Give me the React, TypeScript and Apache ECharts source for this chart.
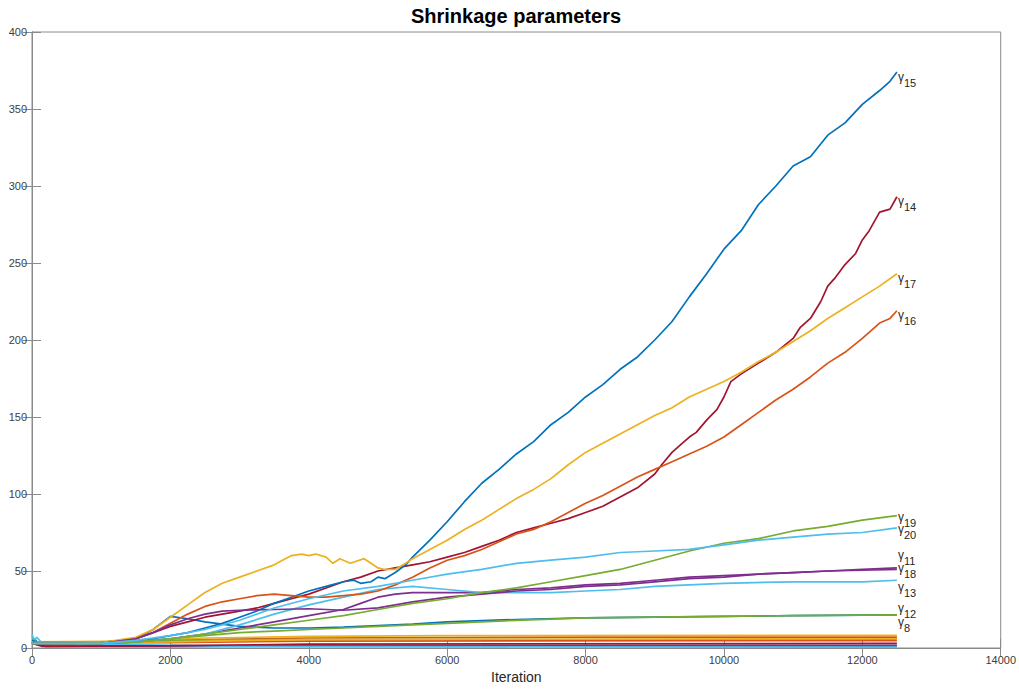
import React, { useEffect, useRef } from "react";
import * as echarts from "echarts";

const TITLE = "Shrinkage parameters";
const X_NAME = "Iteration";
const X_MIN = 0, X_MAX = 14000, X_STEP = 2000;
const Y_MIN = 0, Y_MAX = 400, Y_STEP = 50;

const COLORS = ["#0072BD", "#D95319", "#EDB120", "#7E2F8E", "#77AC30", "#4DBEEE", "#A2142F"];

// [iteration, value]
const g1 = [[0, 3], [40, 6], [100, 2], [300, 1.2], [6000, 1.3], [12500, 1.3]];
const g2 = [[0, 4], [1500, 4], [2500, 5.5], [4000, 6.5], [8000, 7], [12500, 7]];
const g3 = [[0, 4], [1500, 4.5], [2500, 6.5], [4000, 7.5], [6000, 8], [12500, 8.2]];
const g4 = [[0, 3], [150, 1], [2000, 1], [5000, 1.5], [12500, 1.8]];
const g5 = [[0, 7], [60, 4], [1000, 4], [2000, 5], [3000, 5.5], [12500, 5.5]];
const g6 = [[0, 9], [30, 5], [70, 7], [150, 3], [1000, 2.5], [3000, 1], [12500, 0.5]];
const g7 = [[0, 3], [200, 1], [2000, 1.5], [4000, 2.5], [12500, 3]];
const g8 = [[0, 5], [100, 3], [500, 3], [1000, 3.5], [1500, 6], [1750, 12], [2000, 20.5], [2250, 19], [2500, 17], [3000, 14], [3500, 13], [4000, 13], [4500, 13.5], [5000, 14.5], [5500, 15.5], [6000, 17], [7000, 18.5], [8000, 19.5], [9000, 20], [10000, 20.5], [11000, 21], [12500, 21.5]];
const g9 = [[0, 3.5], [2000, 3.5], [4000, 4.5], [12500, 4.8]];
const g10 = [[0, 3.5], [2000, 4], [4000, 5.5], [12500, 6]];
const g11 = [[0, 3], [1000, 3], [1500, 4], [2000, 6], [2500, 9], [3000, 13], [3500, 17], [4000, 21], [4500, 25], [4750, 29], [5000, 33], [5250, 35], [5500, 36], [6000, 36], [6500, 36], [7000, 38], [7500, 39], [8000, 41], [8500, 42], [9000, 44], [9500, 46], [10000, 47], [10500, 48], [11000, 49], [11500, 50], [12000, 51], [12500, 52]];
const g12 = [[0, 3], [1000, 3], [1500, 4], [2000, 6], [2500, 8], [3000, 10], [3500, 11], [4000, 12], [4500, 13], [5000, 14], [5500, 15], [6000, 16], [7000, 18], [8000, 19.5], [9000, 20], [10000, 20.5], [11000, 21], [12500, 21.5]];
const g13 = [[0, 3], [1000, 3], [1500, 4], [2000, 6], [2500, 9], [3000, 15], [3500, 22], [4000, 28], [4500, 33], [5000, 38], [5500, 40], [6000, 38], [6500, 36], [7000, 36], [7500, 36], [8000, 37], [8500, 38], [9000, 40], [9500, 41], [10000, 42], [11000, 43], [12000, 43], [12500, 44]];
const g14 = [[0, 3], [500, 3], [1000, 3.5], [1500, 6], [1750, 10], [2000, 14], [2250, 17], [2500, 20], [2750, 22], [3000, 24], [3250, 26], [3500, 29], [3750, 32], [4000, 35], [4250, 39], [4500, 43], [4750, 46], [5000, 50], [5250, 52], [5500, 54], [5750, 56], [6000, 59], [6250, 62], [6500, 66], [6750, 70], [7000, 75], [7250, 78], [7500, 81], [7750, 84], [8000, 88], [8250, 92], [8500, 98], [8750, 104], [9000, 113], [9100, 119], [9250, 127], [9400, 133], [9500, 137], [9600, 140], [9750, 148], [9900, 155], [10000, 163], [10100, 173], [10250, 178], [10500, 185], [10750, 192], [11000, 201], [11100, 208], [11250, 214], [11400, 225], [11500, 235], [11600, 240], [11750, 249], [11900, 256], [12000, 265], [12100, 271], [12250, 283], [12400, 285], [12500, 293]];
const g15 = [[0, 3], [250, 3], [500, 3], [1000, 3.5], [1500, 5], [1750, 6], [2000, 8], [2250, 10], [2500, 13], [2750, 16], [3000, 20], [3250, 24], [3500, 29], [3750, 33], [4000, 37], [4250, 40], [4500, 43], [4650, 44], [4750, 42], [4900, 43], [5000, 46], [5100, 45], [5250, 49], [5400, 54], [5500, 59], [5750, 70], [6000, 82], [6250, 95], [6500, 107], [6750, 116], [7000, 126], [7250, 134], [7500, 145], [7750, 153], [8000, 163], [8250, 171], [8500, 181], [8750, 189], [9000, 200], [9250, 212], [9500, 228], [9750, 243], [10000, 259], [10250, 271], [10500, 288], [10750, 300], [11000, 313], [11250, 319], [11500, 333], [11750, 341], [12000, 353], [12250, 362], [12400, 368], [12500, 374]];
const g16 = [[0, 3], [500, 3], [1000, 3.5], [1500, 6], [1750, 10], [2000, 16], [2250, 22], [2500, 27], [2750, 30], [3000, 32], [3250, 34], [3500, 35], [3750, 34], [4000, 33], [4250, 33], [4500, 34], [4750, 35], [5000, 37], [5250, 41], [5500, 46], [5750, 52], [6000, 57], [6250, 60], [6500, 64], [6750, 69], [7000, 74], [7250, 77], [7500, 82], [7750, 88], [8000, 94], [8250, 99], [8500, 105], [8750, 111], [9000, 116], [9250, 121], [9500, 126], [9750, 131], [10000, 137], [10250, 145], [10500, 153], [10750, 161], [11000, 168], [11250, 176], [11500, 185], [11750, 192], [12000, 201], [12250, 211], [12400, 214], [12500, 219]];
const g17 = [[0, 3], [500, 3], [1000, 3.5], [1500, 7], [1750, 12], [2000, 20], [2250, 28], [2500, 36], [2750, 42], [3000, 46], [3250, 50], [3500, 54], [3750, 60], [3900, 61], [4000, 60], [4100, 61], [4250, 59], [4350, 55], [4450, 58], [4600, 55], [4800, 58], [4900, 55], [5000, 52], [5100, 51], [5250, 51], [5400, 55], [5500, 58], [5750, 64], [6000, 70], [6250, 77], [6500, 83], [6750, 90], [7000, 97], [7250, 103], [7500, 110], [7750, 119], [8000, 127], [8250, 133], [8500, 139], [8750, 145], [9000, 151], [9250, 156], [9500, 163], [9750, 168], [10000, 173], [10250, 179], [10500, 186], [10750, 192], [11000, 199], [11250, 206], [11500, 214], [11750, 221], [12000, 228], [12250, 235], [12500, 243]];
const g18 = [[0, 3], [1000, 3], [1500, 6], [1750, 10], [2000, 15], [2250, 19], [2500, 22], [2750, 24], [3000, 24.5], [3500, 25], [4000, 25.5], [4500, 24.5], [5000, 26], [5500, 30], [6000, 33], [6500, 35], [7000, 37], [7500, 38], [8000, 40], [8500, 41], [9000, 43], [9500, 45], [10000, 46], [10500, 48], [11000, 49], [11500, 50], [12000, 50.5], [12500, 51]];
const g19 = [[0, 3], [1000, 3], [1500, 4], [2000, 6], [2500, 9], [3000, 12], [3500, 15], [4000, 18], [4500, 21], [5000, 25], [5500, 29], [6000, 32], [6500, 36], [7000, 39], [7500, 43], [8000, 47], [8500, 51], [9000, 57], [9500, 63], [10000, 68], [10500, 71], [11000, 76], [11500, 79], [12000, 83], [12500, 86]];
const g20 = [[0, 3], [1000, 3], [1500, 5], [2000, 8], [2500, 12], [3000, 18], [3500, 26], [4000, 32], [4500, 37], [5000, 40], [5500, 44], [6000, 48], [6500, 51], [7000, 55], [7500, 57], [8000, 59], [8500, 62], [9000, 63], [9500, 64], [10000, 67], [10500, 70], [11000, 72], [11500, 74], [12000, 75], [12500, 78]];

const SERIES_DATA = [g1, g2, g3, g4, g5, g6, g7, g8, g9, g10, g11, g12, g13, g14, g15, g16, g17, g18, g19, g20];
const LABELED = [8, 11, 12, 13, 14, 15, 16, 17, 18, 19, 20];
const LABEL_DY: Record<number, number> = { 8: 10, 11: -10, 12: -4, 13: 9, 14: 7, 15: 7, 16: 7, 17: 7, 18: 1, 19: 4, 20: 4 };

export default function App() {
  const ref = useRef<HTMLDivElement>(null);
  useEffect(() => {
    if (!ref.current) return;
    const chart = echarts.init(ref.current, undefined, { renderer: "svg" });
    const font = "'Liberation Sans', Arial, Helvetica, sans-serif";
    const axisLineStyle = { color: "#8a8a8a", width: 1 };
    const series = SERIES_DATA.map((d, i) => {
      const n = i + 1;
      const color = COLORS[i % 7];
      const labeled = LABELED.includes(n);
      return {
        type: "line",
        name: "γ" + n,
        data: d,
        showSymbol: false,
        symbol: "none",
        silent: true,
        lineStyle: { color, width: 1.7 },
        itemStyle: { color },
        endLabel: labeled
          ? {
              show: true,
              distance: 1,
              offset: [0, LABEL_DY[n] ?? 6],
              formatter: () => `{g|γ}{s|${n}}`,
              rich: {
                g: { fontSize: 12, fontFamily: font, color: "#262626", padding: [0, 0, 5, 0] },
                s: { fontSize: 11, fontFamily: font, color: "#262626", padding: [7, 0, 0, 0] },
              },
            }
          : { show: false },
      };
    });
    chart.setOption({
      animation: false,
      backgroundColor: "#ffffff",
      grid: { left: 32, right: 18, top: 32, bottom: 42, show: true, borderColor: "#8a8a8a", borderWidth: 1, containLabel: false },
      graphic: [
        {
          type: "text",
          x: 516,
          y: 16,
          style: { text: TITLE, fontSize: 20, fontWeight: "bold", fontFamily: font, fill: "#000", textAlign: "center", textVerticalAlign: "middle" },
        },
      ],
      xAxis: [
        {
          type: "value",
          min: X_MIN,
          max: X_MAX,
          interval: X_STEP,
          position: "bottom",
          name: X_NAME,
          nameLocation: "middle",
          nameGap: 22,
          nameTextStyle: { fontSize: 14, fontFamily: font, color: "#262626" },
          axisLine: { show: true, lineStyle: axisLineStyle },
          axisTick: { show: true, inside: true, length: 9, lineStyle: axisLineStyle },
          axisLabel: { fontSize: 11, fontFamily: font, color: "#404040", margin: 6, formatter: (v: number) => String(v) },
          splitLine: { show: false },
        },
        {
          type: "value",
          min: X_MIN,
          max: X_MAX,
          interval: X_STEP,
          position: "top",
          axisLine: { show: true, lineStyle: axisLineStyle },
          axisTick: { show: true, inside: true, length: 9, lineStyle: axisLineStyle },
          axisLabel: { show: false },
          splitLine: { show: false },
        },
      ],
      yAxis: [
        {
          type: "value",
          min: Y_MIN,
          max: Y_MAX,
          interval: Y_STEP,
          position: "left",
          axisLine: { show: true, lineStyle: axisLineStyle },
          axisTick: { show: true, inside: true, length: 9, lineStyle: axisLineStyle },
          axisLabel: { fontSize: 11, fontFamily: font, color: "#404040", margin: 5, formatter: (v: number) => String(v) },
          splitLine: { show: false },
        },
        {
          type: "value",
          min: Y_MIN,
          max: Y_MAX,
          interval: Y_STEP,
          position: "right",
          axisLine: { show: true, lineStyle: axisLineStyle },
          axisTick: { show: true, inside: true, length: 9, lineStyle: axisLineStyle },
          axisLabel: { show: false },
          splitLine: { show: false },
        },
      ],
      series,
    });
    return () => chart.dispose();
  }, []);
  return <div ref={ref} style={{ position: "fixed", left: 0, top: 0, width: 1019, height: 690 }} />;
}
